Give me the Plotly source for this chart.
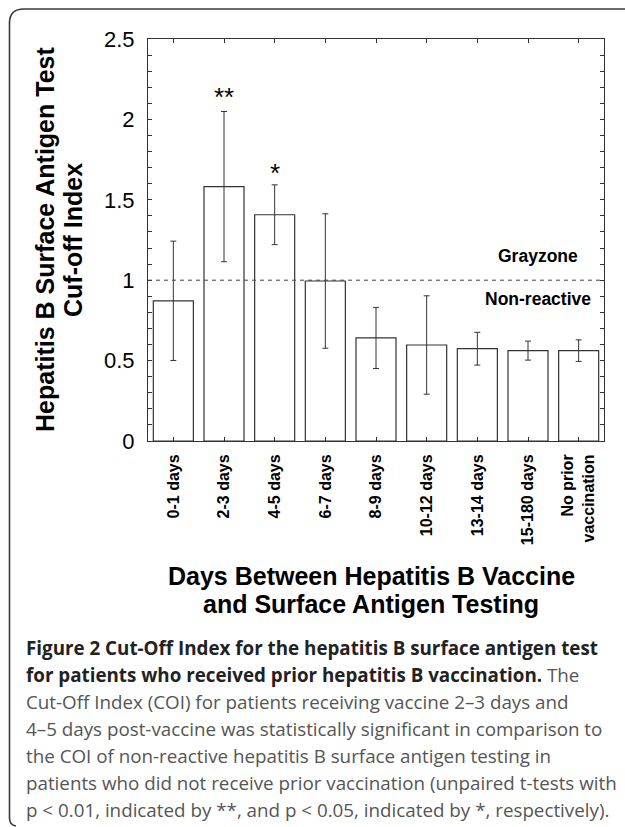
import plotly.graph_objects as go

categories = ["0-1 days", "2-3 days", "4-5 days", "6-7 days", "8-9 days",
              "10-12 days", "13-14 days", "15-180 days", "No prior<br>vaccination"]
cut_off_index = [0.872, 1.582, 1.407, 0.995, 0.641, 0.597, 0.574, 0.562, 0.562]
error_sd = [0.371, 0.467, 0.186, 0.418, 0.190, 0.306, 0.102, 0.059, 0.067]
significance = ["", "**", "*", "", "", "", "", "", ""]
star_y = [None, 2.14, 1.665, None, None, None, None, None, None]
y_ticks = [0, 0.5, 1, 1.5, 2, 2.5]
y_tick_labels = ["0", "0.5", "1", "1.5", "2", "2.5"]
threshold = 1.0
threshold_labels = ["Grayzone", "Non-reactive"]

caption_lines = [
    "<b>Figure 2 Cut-Off Index for the hepatitis B surface antigen test</b>",
    "<b>for patients who received prior hepatitis B vaccination.</b> <span style='color:#555555'>The</span>",
    "Cut-Off Index (COI) for patients receiving vaccine 2\u20133 days and",
    "4\u20135 days post-vaccine was statistically significant in comparison to",
    "the COI of non-reactive hepatitis B surface antigen testing in",
    "patients who did not receive prior vaccination (unpaired t-tests with",
    "p &lt; 0.01, indicated by **, and p &lt; 0.05, indicated by *, respectively).",
]

W, H = 625, 827
X0, X1, Y0, Y1 = 148, 604, 39, 441  # plot area in pixels


def px(x):
    return (x - X0) / (X1 - X0)


def py(y):
    return (Y1 - y) / (Y1 - Y0)


AX = "#333333"
FONT = "Liberation Sans, Arial, sans-serif"

fig = go.Figure()
fig.add_trace(go.Bar(
    x=categories, y=cut_off_index,
    width=0.79,
    marker=dict(color="white", line=dict(color=AX, width=1.2)),
    error_y=dict(type="data", array=error_sd, visible=True,
                 color=AX, thickness=1, width=3),
    showlegend=False,
))

fig.add_shape(type="line", xref="paper", yref="y", x0=0, x1=1,
              y0=threshold, y1=threshold,
              line=dict(color="#444444", width=1, dash="4px,4px"))

annotations = []
for c, s, yy in zip(categories, significance, star_y):
    if s:
        annotations.append(dict(x=c, y=yy, xref="x", yref="y", text=s,
                                showarrow=False, xanchor="center", yanchor="middle",
                                font=dict(family=FONT, size=26, color="black")))

annotations.append(dict(x=px(538), y=py(256), xref="paper", yref="paper",
                        text="<b>%s</b>" % threshold_labels[0], showarrow=False,
                        xanchor="center", yanchor="middle",
                        font=dict(family=FONT, size=17.5, color="black")))
annotations.append(dict(x=px(538), y=py(299), xref="paper", yref="paper",
                        text="<b>%s</b>" % threshold_labels[1], showarrow=False,
                        xanchor="center", yanchor="middle",
                        font=dict(family=FONT, size=17.5, color="black")))

# y-axis title (two lines)
for text, xc in [("Hepatitis B Surface Antigen Test", 45), ("Cuf-off Index", 73)]:
    annotations.append(dict(x=px(xc), y=py(240), xref="paper", yref="paper",
                            text="<b>%s</b>" % text, showarrow=False, textangle=-90,
                            xanchor="center", yanchor="middle",
                            font=dict(family=FONT, size=25, color="black")))

# x-axis title (two lines)
for text, yc in [("Days Between Hepatitis B Vaccine", 576), ("and Surface Antigen Testing", 604)]:
    annotations.append(dict(x=px(371), y=py(yc), xref="paper", yref="paper",
                            text="<b>%s</b>" % text, showarrow=False,
                            xanchor="center", yanchor="middle",
                            font=dict(family=FONT, size=25, color="black")))

# caption
for i, line in enumerate(caption_lines):
    annotations.append(dict(x=px(24), y=py(648 + 27 * i), xref="paper", yref="paper",
                            text=line, showarrow=False, xanchor="left", yanchor="middle",
                            align="left",
                            font=dict(family="Open Sans, sans-serif", size=18.8,
                                      color="#222222" if i < 2 else "#555555")))

# frame (top and left border with rounded corner)
frame = "M %f,%f L %f,%f Q %f,%f %f,%f L %f,%f Q %f,%f %f,%f" % (
    px(626), py(9), px(24), py(9), px(9.5), py(9), px(9.5), py(23),
    px(9.5), py(818), px(9.5), py(825), px(16), py(826))
fig.add_shape(type="path", xref="paper", yref="paper", path=frame,
              line=dict(color="#3a3a3a", width=1.6))

fig.update_layout(
    width=W, height=H, autosize=False,
    margin=dict(l=X0, r=W - X1, t=Y0, b=H - Y1, pad=0),
    plot_bgcolor="white", paper_bgcolor="white",
    annotations=annotations,
    bargap=0.21,
)
fig.update_xaxes(
    showline=True, linecolor=AX, linewidth=1, mirror="ticks",
    ticks="inside", ticklen=4, tickcolor=AX, tickwidth=1,
    tickangle=-90, ticklabelstandoff=6,
    tickfont=dict(family=FONT, size=16, color="black", weight="bold"),
    showgrid=False, zeroline=False,
)
fig.update_yaxes(
    range=[0, 2.5], tickvals=y_ticks, ticktext=y_tick_labels,
    showline=True, linecolor=AX, linewidth=1, mirror="ticks",
    ticks="inside", ticklen=4, tickcolor=AX, tickwidth=1,
    minor=dict(dtick=0.1, ticks="inside", ticklen=4, tickcolor=AX, tickwidth=1),
    ticklabelstandoff=8,
    tickfont=dict(family=FONT, size=22, color="black"),
    showgrid=False, zeroline=False,
)

fig.write_html(
    "out.html",
    config={"displayModeBar": False},
    post_script="document.body.style.margin='0';document.body.style.padding='0';"
                "document.body.style.overflow='hidden';",
)
